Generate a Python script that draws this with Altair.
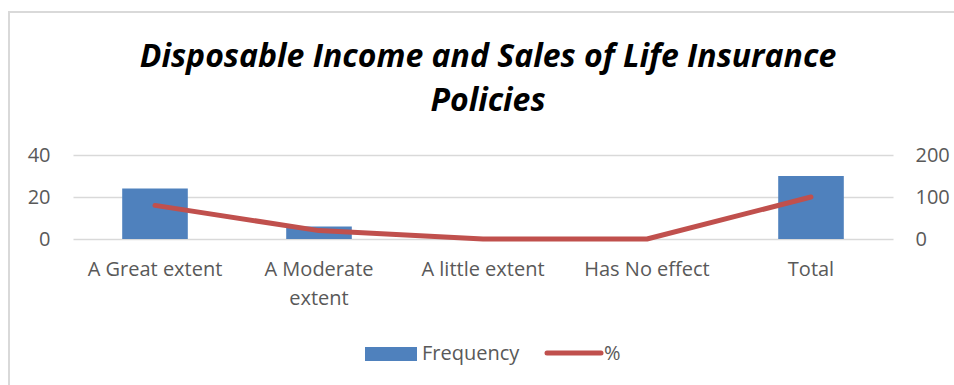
import altair as alt
import pandas as pd

categories = ["A Great extent", "A Moderate extent", "A little extent", "Has No effect", "Total"]
frequency = [24, 6, 0, 0, 30]
percent = [80, 20, 0, 0, 100]
title_lines = ["Disposable Income and Sales of Life Insurance", "Policies"]

df = pd.DataFrame({"category": categories, "Frequency": frequency, "pct": percent})

FONT = "Open Sans"
LABEL_COLOR = "#595959"
GRID = "#d9d9d9"
BAR = "#4f81bd"
LINE = "#c0504d"
LFS = 20

W, H = 820, 84

x_enc = alt.X(
    "category:N",
    sort=categories,
    title=None,
    scale=alt.Scale(paddingInner=0.6, paddingOuter=0.3),
    axis=alt.Axis(
        labelAngle=0,
        labelFont=FONT,
        labelFontSize=LFS,
        labelColor=LABEL_COLOR,
        labelPadding=20,
        labelLineHeight=29,
        labelBaseline="top",
        ticks=False,
        domain=False,
        grid=False,
        labelExpr="datum.label == 'A Moderate extent' ? ['A Moderate', 'extent'] : datum.label",
    ),
)

bars = alt.Chart(df).mark_bar(color=BAR).encode(
    x=x_enc,
    y=alt.Y(
        "Frequency:Q",
        title=None,
        scale=alt.Scale(domain=[0, 40], nice=False),
        axis=alt.Axis(
            values=[0, 20, 40],
            labelFont=FONT,
            labelFontSize=LFS,
            labelColor=LABEL_COLOR,
            labelPadding=23,
            ticks=False,
            domain=False,
            grid=True,
            gridColor=GRID,
            gridWidth=1.5,
        ),
    ),
)

line = alt.Chart(df).mark_line(
    color=LINE, strokeWidth=5, strokeCap="round", strokeJoin="round"
).encode(
    x=x_enc,
    y=alt.Y(
        "pct:Q",
        title=None,
        scale=alt.Scale(domain=[0, 200], nice=False),
        axis=alt.Axis(
            orient="right",
            values=[0, 100, 200],
            labelFont=FONT,
            labelFontSize=LFS,
            labelColor=LABEL_COLOR,
            labelPadding=22,
            ticks=False,
            domain=False,
            grid=False,
        ),
    ),
)

one = alt.Data(values=[{}])

frame = alt.Chart(one).mark_rect(fill=None, stroke=GRID, strokeWidth=2).encode(
    x=alt.value(-64), x2=alt.value(900), y=alt.value(-143), y2=alt.value(245)
)

title1 = alt.Chart(one).mark_text(
    text=title_lines[0], font=FONT, fontSize=32, fontWeight="bold", fontStyle="italic",
    color="#000000", align="center", baseline="middle"
).encode(x=alt.value(415), y=alt.value(-98))

title2 = alt.Chart(one).mark_text(
    text=title_lines[1], font=FONT, fontSize=32, fontWeight="bold", fontStyle="italic",
    color="#000000", align="center", baseline="middle"
).encode(x=alt.value(415), y=alt.value(-54))

leg_rect = alt.Chart(one).mark_rect(color=BAR).encode(
    x=alt.value(292), x2=alt.value(344), y=alt.value(192), y2=alt.value(206)
)
leg_t1 = alt.Chart(one).mark_text(
    text="Frequency", font=FONT, fontSize=LFS, color=LABEL_COLOR, align="left", baseline="middle"
).encode(x=alt.value(349), y=alt.value(199))
leg_line = alt.Chart(one).mark_rule(color=LINE, strokeWidth=5, strokeCap="round").encode(
    x=alt.value(474), x2=alt.value(528), y=alt.value(198)
)
leg_t2 = alt.Chart(one).mark_text(
    text="%", font=FONT, fontSize=LFS, color=LABEL_COLOR, align="left", baseline="middle"
).encode(x=alt.value(531), y=alt.value(199))

chart = alt.layer(
    frame, bars, line, title1, title2, leg_rect, leg_t1, leg_line, leg_t2
).resolve_scale(y="independent").properties(
    width=W,
    height=H,
    autosize=alt.AutoSizeParams(type="none"),
    padding={"left": 73, "top": 155, "right": 61, "bottom": 146},
    background="white",
).configure_view(stroke=None)

chart.save("out.html", embed_options={"renderer": "svg", "actions": False})
